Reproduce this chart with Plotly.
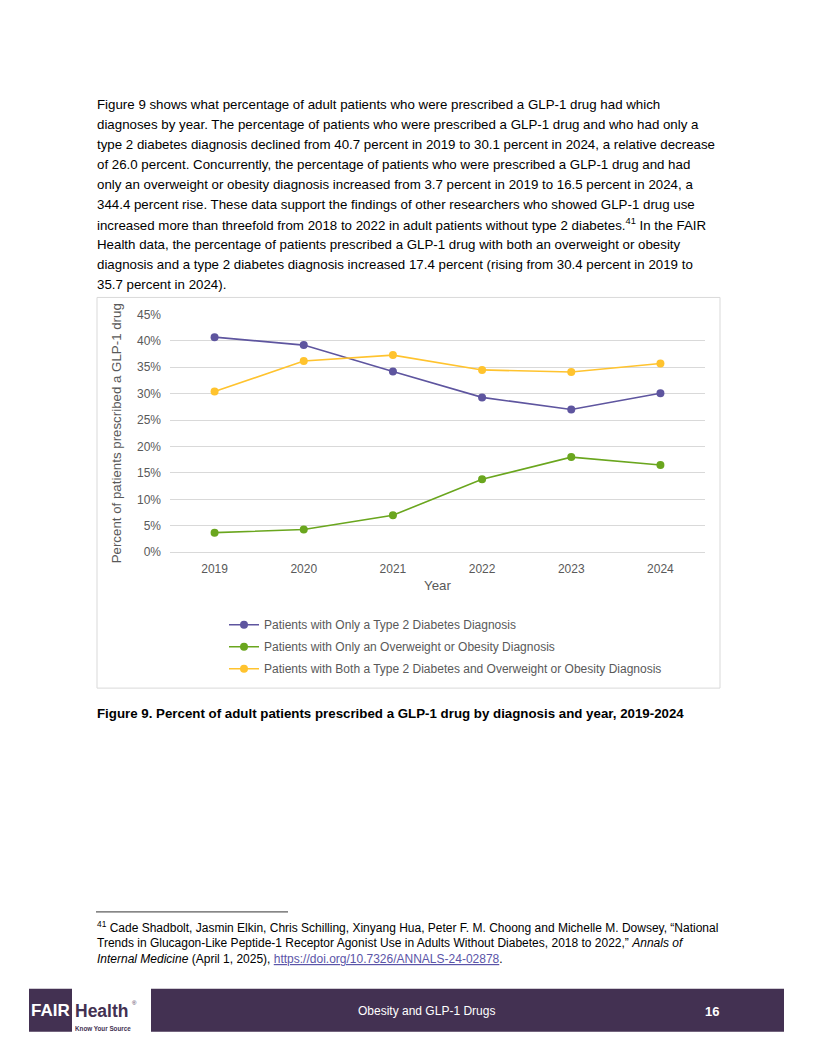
import plotly.graph_objects as go

years = ["2019", "2020", "2021", "2022", "2023", "2024"]
only_t2d = [40.7, 39.2, 34.2, 29.3, 27.0, 30.1]
only_obesity = [3.7, 4.3, 7.0, 13.8, 18.0, 16.5]
both = [30.4, 36.2, 37.3, 34.5, 34.1, 35.7]
series_names = [
    "Patients with Only a Type 2 Diabetes Diagnosis",
    "Patients with Only an Overweight or Obesity Diagnosis",
    "Patients with Both a Type 2 Diabetes and Overweight or Obesity Diagnosis",
]
series_colors = ["#5E559F", "#6AA61E", "#FFC32E"]
y_ticks = [0, 5, 10, 15, 20, 25, 30, 35, 40, 45]

body_lines = [
    "Figure 9 shows what percentage of adult patients who were prescribed a GLP-1 drug had which",
    "diagnoses by year. The percentage of patients who were prescribed a GLP-1 drug and who had only a",
    "type 2 diabetes diagnosis declined from 40.7 percent in 2019 to 30.1 percent in 2024, a relative decrease",
    "of 26.0 percent. Concurrently, the percentage of patients who were prescribed a GLP-1 drug and had",
    "only an overweight or obesity diagnosis increased from 3.7 percent in 2019 to 16.5 percent in 2024, a",
    "344.4 percent rise. These data support the findings of other researchers who showed GLP-1 drug use",
    "increased more than threefold from 2018 to 2022 in adult patients without type 2 diabetes.<sup>41</sup> In the FAIR",
    "Health data, the percentage of patients prescribed a GLP-1 drug with both an overweight or obesity",
    "diagnosis and a type 2 diabetes diagnosis increased 17.4 percent (rising from 30.4 percent in 2019 to",
    "35.7 percent in 2024).",
]
caption = "<b>Figure 9. Percent of adult patients prescribed a GLP-1 drug by diagnosis and year, 2019-2024</b>"
footnote_lines = [
    "<sup>41</sup> Cade Shadbolt, Jasmin Elkin, Chris Schilling, Xinyang Hua, Peter F. M. Choong and Michelle M. Dowsey, \u201cNational",
    "Trends in Glucagon-Like Peptide-1 Receptor Agonist Use in Adults Without Diabetes, 2018 to 2022,\u201d <i>Annals of</i>",
    "<i>Internal Medicine</i> (April 1, 2025), <span style='color:#5B55A8;text-decoration:underline'>https://doi.org/10.7326/ANNALS-24-02878</span>.",
]

W, H = 816, 1056
FONT = "Liberation Sans, Arial, sans-serif"
PURPLE = "#433152"
# the page photo comes out slightly squeezed vertically; compensate
SY, OY = 0.9876, 6.3


def px(x):
    return x / W


def py(y):
    return 1 - ((y - OY) / SY) / H


fig = go.Figure()
for i, (name, vals, col) in enumerate(zip(series_names, [only_t2d, only_obesity, both], series_colors)):
    fig.add_trace(go.Scatter(
        x=years, y=vals, name=name, mode="lines+markers", legendgroup=f"g{i}",
        line=dict(color=col, width=1.6),
        marker=dict(color=col, size=8),
    ))

annotations = []


def txt(text, x, y, size, color="#000000", anchor="left", angle=0, family=FONT):
    annotations.append(dict(
        text=text, x=px(x), y=py(y), xref="paper", yref="paper",
        xanchor=anchor, yanchor="middle", showarrow=False, textangle=angle,
        font=dict(family=family, size=size, color=color),
    ))


for i, t in enumerate(body_lines):
    txt(t, 95, 104 + i * 20, 13.3)
txt(caption, 95, 713, 13.3)
for i, t in enumerate(footnote_lines):
    txt(t, 95, 927 + i * 16, 12)

# axis titles
txt("Year", 437.5, 585, 13.3, "#595959", "center")
txt("Percent of patients prescribed a GLP-1 drug", 116, 433, 13.3, "#595959", "center", -90)

# footer
txt("Obesity and GLP-1 Drugs", 426, 1011, 12, "#FFFFFF", "center")
txt("<b>16</b>", 712, 1012, 13, "#FFFFFF", "center")
txt("<b>FAIR</b>", 50.5, 1011, 17, "#FFFFFF", "center")
txt("<b>Health</b>", 101, 1011, 17.5, PURPLE, "center")
txt("\u00ae", 134, 1003, 6, PURPLE, "center")
txt("<b>Know Your Source</b>", 103, 1029, 6.3, PURPLE, "center")

shapes = [
    # chart frame
    dict(type="rect", xref="paper", yref="paper", x0=px(97), x1=px(720), y0=py(688), y1=py(297),
         line=dict(color="#D9D9D9", width=1), fillcolor="rgba(0,0,0,0)", layer="below"),
    # footnote separator
    dict(type="line", xref="paper", yref="paper", x0=px(96), x1=px(288), y0=py(912), y1=py(912),
         line=dict(color="#000000", width=0.8)),
    # footer bar
    dict(type="rect", xref="paper", yref="paper", x0=px(151), x1=px(784), y0=py(1032), y1=py(989),
         line=dict(width=0), fillcolor=PURPLE, layer="below"),
    # logo block
    dict(type="rect", xref="paper", yref="paper", x0=px(29), x1=px(72), y0=py(1032), y1=py(989),
         line=dict(width=0), fillcolor=PURPLE, layer="below"),
]

fig.update_layout(
    width=W, height=H, margin=dict(l=0, r=0, t=0, b=0),
    paper_bgcolor="#FFFFFF", plot_bgcolor="#FFFFFF",
    font=dict(family=FONT, size=12, color="#595959"),
    annotations=annotations, shapes=shapes,
    showlegend=True,
    legend=dict(
        x=px(224), y=py(610), xanchor="left", yanchor="top",
        bgcolor="rgba(0,0,0,0)", font=dict(family=FONT, size=12, color="#595959"),
        tracegroupgap=3, itemwidth=30,
    ),
    xaxis=dict(
        domain=[px(170), px(705)], type="category", range=[-0.5, 5.5],
        showgrid=False, showline=False, zeroline=False, ticks="",
        tickfont=dict(family=FONT, size=12, color="#595959"),
        ticklabelstandoff=8,
    ),
    yaxis=dict(
        domain=[py(552), py(314)], range=[0, 45], tickvals=y_ticks,
        ticktext=[f"{v}%" for v in y_ticks],
        showgrid=True, gridcolor="#D9D9D9", gridwidth=1,
        zeroline=True, zerolinecolor="#D9D9D9", zerolinewidth=1,
        showline=False, ticks="",
        tickfont=dict(family=FONT, size=12, color="#595959"),
        ticklabelstandoff=8,
    ),
)

post = (
    "var h=document.documentElement,b=document.body;"
    "h.style.margin='0';h.style.padding='0';h.style.overflow='hidden';"
    "b.style.margin='0';b.style.padding='0';b.style.overflow='hidden';"
)

fig.write_html("out.html", config={"displayModeBar": False}, post_script=post)
